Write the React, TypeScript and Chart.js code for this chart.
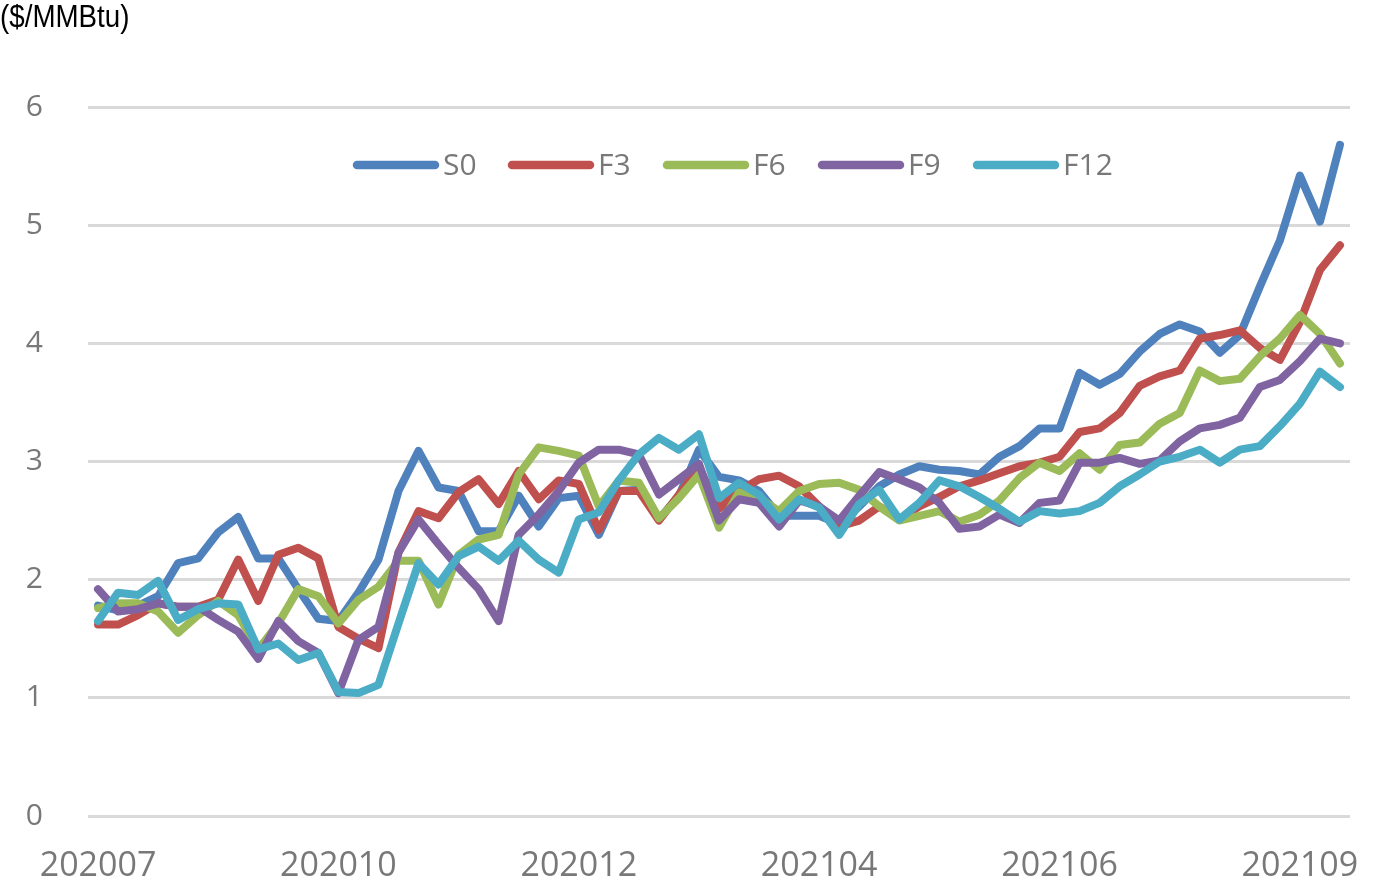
import React, { useEffect, useRef } from "react";
import { Chart, registerables } from "chart.js";

Chart.register(...registerables);

// Weekly observations, labelled by month (yyyymm)
const categories: string[] = [
  "202007", "202007", "202007", "202007",
  "202008", "202008", "202008", "202008",
  "202009", "202009", "202009", "202009",
  "202010", "202010", "202010", "202010",
  "202011", "202011", "202011", "202011",
  "202012", "202012", "202012", "202012", "202012",
  "202101", "202101", "202101", "202101",
  "202102", "202102", "202102", "202102",
  "202103", "202103", "202103",
  "202104", "202104", "202104", "202104",
  "202105", "202105", "202105", "202105",
  "202106", "202106", "202106", "202106", "202106",
  "202107", "202107", "202107", "202107",
  "202108", "202108", "202108", "202108",
  "202109", "202109", "202109", "202109", "202109",
  "202110",
];
const tickEvery = 12;

const seriesNames = ["S0", "F3", "F6", "F9", "F12"];
const seriesColors = ["#4F81BD", "#C0504D", "#9BBB59", "#8064A2", "#4BACC6"];

const s0 = [
  1.78, 1.74, 1.78, 1.86, 2.14, 2.18, 2.40, 2.53, 2.18, 2.18,
  1.92, 1.67, 1.65, 1.89, 2.17, 2.75, 3.09, 2.78, 2.75, 2.41,
  2.41, 2.71, 2.45, 2.69, 2.71, 2.38, 2.75, 2.76, 2.51, 2.71,
  3.10, 2.87, 2.84, 2.75, 2.54, 2.54, 2.54, 2.47, 2.62, 2.79,
  2.89, 2.96, 2.93, 2.92, 2.89, 3.04, 3.13, 3.28, 3.28, 3.75,
  3.65, 3.74, 3.93, 4.08, 4.16, 4.10, 3.92, 4.07, 4.48, 4.87,
  5.42, 5.03, 5.68,
];
const f3 = [
  1.62, 1.62, 1.70, 1.80, 1.77, 1.77, 1.83, 2.17, 1.82, 2.21,
  2.27, 2.18, 1.60, 1.50, 1.42, 2.23, 2.58, 2.52, 2.74, 2.85,
  2.64, 2.92, 2.68, 2.84, 2.81, 2.42, 2.75, 2.75, 2.50, 2.72,
  2.95, 2.60, 2.75, 2.85, 2.88, 2.79, 2.62, 2.45, 2.50, 2.62,
  2.51, 2.62, 2.70, 2.79, 2.84, 2.90, 2.96, 2.99, 3.04, 3.25,
  3.28, 3.41, 3.64, 3.72, 3.77, 4.04, 4.07, 4.11, 3.96, 3.86,
  4.18, 4.62, 4.83,
];
const f6 = [
  1.76, 1.80, 1.80, 1.73, 1.55, 1.70, 1.82, 1.70, 1.41, 1.63,
  1.92, 1.86, 1.63, 1.83, 1.94, 2.16, 2.16, 1.79, 2.21, 2.34,
  2.38, 2.89, 3.12, 3.09, 3.05, 2.62, 2.84, 2.82, 2.52, 2.69,
  2.89, 2.44, 2.74, 2.69, 2.58, 2.75, 2.81, 2.82, 2.76, 2.62,
  2.50, 2.54, 2.58, 2.49, 2.55, 2.67, 2.86, 2.99, 2.92, 3.07,
  2.93, 3.14, 3.16, 3.32, 3.41, 3.77, 3.68, 3.70, 3.89, 4.04,
  4.24, 4.08, 3.83,
];
const f9 = [
  1.92, 1.73, 1.75, 1.80, 1.77, 1.77, 1.66, 1.56, 1.33, 1.65,
  1.48, 1.38, 1.04, 1.49, 1.60, 2.23, 2.51, 2.30, 2.10, 1.92,
  1.65, 2.38, 2.55, 2.75, 2.99, 3.10, 3.10, 3.06, 2.72, 2.85,
  2.98, 2.50, 2.68, 2.65, 2.45, 2.67, 2.62, 2.50, 2.71, 2.91,
  2.85, 2.78, 2.65, 2.43, 2.45, 2.55, 2.48, 2.65, 2.67, 2.99,
  2.99, 3.03, 2.98, 3.01, 3.17, 3.28, 3.31, 3.37, 3.63, 3.69,
  3.85, 4.04, 4.00,
];
const f12 = [
  1.65, 1.89, 1.87, 1.99, 1.66, 1.75, 1.80, 1.79, 1.41, 1.46,
  1.32, 1.38, 1.05, 1.04, 1.11, 1.63, 2.14, 1.96, 2.20, 2.28,
  2.16, 2.33, 2.17, 2.06, 2.51, 2.57, 2.84, 3.06, 3.20, 3.10,
  3.23, 2.69, 2.82, 2.72, 2.51, 2.68, 2.61, 2.38, 2.64, 2.76,
  2.51, 2.65, 2.84, 2.79, 2.70, 2.60, 2.49, 2.58, 2.56, 2.58,
  2.65, 2.79, 2.89, 3.00, 3.04, 3.10, 2.99, 3.10, 3.13, 3.30,
  3.49, 3.76, 3.63,
];
const seriesValues = [s0, f3, f6, f9, f12];

const unitLabel = "($/MMBtu)";
const yMin = 0;
const yMax = 6;
const yStep = 1;

const TEXT_GREY = "#787878";

const lineLegend = {
  id: "lineLegend",
  afterDraw(chart: any) {
    const ctx = chart.ctx;
    const area = chart.chartArea;
    ctx.save();
    const y = area.top + 58;
    let x = area.left + 269;
    chart.data.datasets.forEach((ds: any) => {
      ctx.strokeStyle = ds.borderColor;
      ctx.lineWidth = 8.5;
      ctx.lineCap = "round";
      ctx.beginPath();
      ctx.moveTo(x, y);
      ctx.lineTo(x + 78, y);
      ctx.stroke();
      ctx.fillStyle = TEXT_GREY;
      ctx.font = '30px "Open Sans"';
      ctx.textBaseline = "middle";
      ctx.textAlign = "left";
      ctx.fillText(ds.label, x + 86, y + 1);
      x += 155;
    });
    ctx.restore();
  },
};

const unitTitle = {
  id: "unitTitle",
  afterDraw(chart: any) {
    const ctx = chart.ctx;
    ctx.save();
    ctx.fillStyle = "#000000";
    ctx.font = '31px "Liberation Sans", Arial, sans-serif';
    ctx.textBaseline = "alphabetic";
    ctx.textAlign = "left";
    ctx.scale(0.895, 1);
    ctx.fillText(unitLabel, 0, 27);
    ctx.restore();
  },
};

export default function App() {
  const canvasRef = useRef<HTMLCanvasElement | null>(null);

  useEffect(() => {
    document.body.style.margin = "0";
    const canvas = canvasRef.current;
    if (!canvas) return;
    const chart = new Chart(canvas, {
      type: "line",
      data: {
        labels: categories,
        datasets: seriesNames.map((name, i) => ({
          label: name,
          data: seriesValues[i],
          borderColor: seriesColors[i],
          backgroundColor: seriesColors[i],
          borderWidth: 8,
          borderCapStyle: "round",
          borderJoinStyle: "round",
          pointRadius: 0,
          pointHoverRadius: 0,
          tension: 0,
          fill: false,
          order: seriesNames.length - i,
        })),
      },
      options: {
        animation: false,
        responsive: false,
        devicePixelRatio: 1,
        layout: { padding: { left: 0, right: 29, top: 107, bottom: 0 } },
        plugins: {
          legend: { display: false },
          tooltip: { enabled: false },
          title: { display: false },
        },
        scales: {
          x: {
            type: "category",
            offset: true,
            grid: { display: false, drawTicks: false },
            border: { display: false },
            afterFit: (scale: any) => {
              scale.height = 77;
              scale.paddingLeft = 0;
              scale.paddingRight = 0;
            },
            ticks: {
              autoSkip: false,
              maxRotation: 0,
              minRotation: 0,
              padding: 30,
              color: TEXT_GREY,
              font: { family: '"Open Sans"', size: 34 },
              callback: (_v: any, idx: number) =>
                idx % tickEvery === 0 ? categories[idx] : null,
            },
          },
          y: {
            min: yMin,
            max: yMax,
            grid: { color: "#d9d9d9", lineWidth: 3, drawTicks: false },
            border: { display: false },
            afterFit: (scale: any) => {
              scale.width = 88;
              scale.paddingTop = 0;
              scale.paddingBottom = 0;
            },
            ticks: {
              stepSize: yStep,
              padding: 45,
              color: TEXT_GREY,
              font: { family: '"Open Sans"', size: 30 },
            },
          },
        },
      },
      plugins: [lineLegend, unitTitle],
    });
    return () => chart.destroy();
  }, []);

  return (
    <div style={{ width: 1379, height: 893, position: "relative" }}>
      <canvas ref={canvasRef} width={1379} height={893} />
    </div>
  );
}
